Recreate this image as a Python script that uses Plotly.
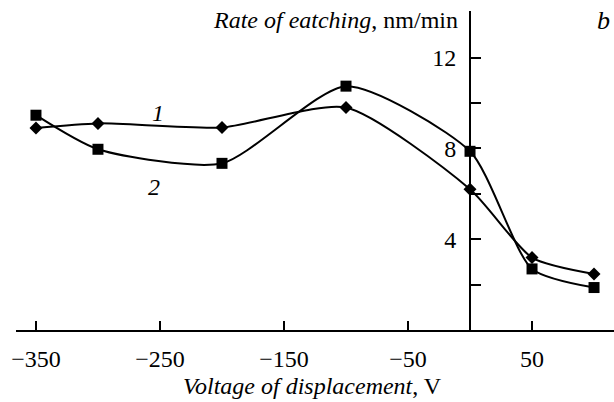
import plotly.graph_objects as go

voltage = [-350, -300, -200, -100, 0, 50, 100]
rate_1 = [8.9, 9.1, 8.92, 9.8, 6.2, 3.19, 2.47]
rate_2 = [9.46, 7.96, 7.34, 10.74, 7.87, 2.69, 1.87]

x_tickvals = [-350, -250, -150, -50, 50]
x_ticktext = ["\u2212350", "\u2212250", "\u2212150", "\u221250", "50"]
y_tickvals = [2, 4, 6, 8, 10, 12]
y_ticktext = ["", "4", "", "8", "", "12"]

XMIN, XMAX = -366.1, 116.1
YMIN, YMAX = 0, 14.05
FONT = "Liberation Serif, Times New Roman, serif"
FS = 24

fig = go.Figure()
fig.add_trace(go.Scatter(
    x=voltage, y=rate_1, mode="lines+markers",
    line=dict(color="black", width=2, shape="spline", smoothing=0.65),
    marker=dict(symbol="diamond", size=10, color="black"),
    showlegend=False, cliponaxis=False))
fig.add_trace(go.Scatter(
    x=voltage, y=rate_2, mode="lines+markers",
    line=dict(color="black", width=2, shape="spline", smoothing=0.65),
    marker=dict(symbol="square", size=11, color="black"),
    showlegend=False, cliponaxis=False))

ypos = (0 - XMIN) / (XMAX - XMIN)

fig.update_layout(
    width=614, height=402,
    margin=dict(l=16, r=0, t=11, b=72),
    paper_bgcolor="white", plot_bgcolor="white",
    font=dict(family=FONT, size=FS, color="black"),
    xaxis=dict(range=[XMIN, XMAX], showgrid=False, zeroline=False,
               showline=True, linecolor="black", linewidth=2,
               ticks="inside", ticklen=9, tickwidth=1.5, tickcolor="black",
               tickvals=x_tickvals, ticktext=x_ticktext,
               ticklabelstandoff=6,
               tickfont=dict(family=FONT, size=FS)),
    yaxis=dict(range=[YMIN, YMAX], showgrid=False, zeroline=False,
               anchor="free", position=ypos,
               showline=True, linecolor="black", linewidth=2,
               ticks="inside", ticklen=10, tickwidth=1.5, tickcolor="black",
               tickvals=y_tickvals, ticktext=y_ticktext,
               ticklabelstandoff=8,
               tickfont=dict(family=FONT, size=FS)),
    annotations=[
        dict(text="<i>Rate of eatching</i>, nm/min", xref="paper", yref="paper",
             x=(460 - 16) / 598, y=(330 - 20) / 319, xanchor="right", yanchor="middle",
             showarrow=False, font=dict(family=FONT, size=FS)),
        dict(text="<i>Voltage of displacement</i>, V", xref="paper", yref="paper",
             x=(312 - 16) / 598, y=(330 - 386) / 319, xanchor="center", yanchor="middle",
             showarrow=False, font=dict(family=FONT, size=FS)),
        dict(text="<i>b</i>", xref="paper", yref="paper",
             x=(603 - 16) / 598, y=(330 - 20) / 319, xanchor="center", yanchor="middle",
             showarrow=False, font=dict(family=FONT, size=26)),
        dict(text="<i>1</i>", x=-252, y=9.55, showarrow=False,
             font=dict(family=FONT, size=FS)),
        dict(text="<i>2</i>", x=-255, y=6.3, showarrow=False,
             font=dict(family=FONT, size=FS)),
    ],
)

fig.write_html("out.html")
